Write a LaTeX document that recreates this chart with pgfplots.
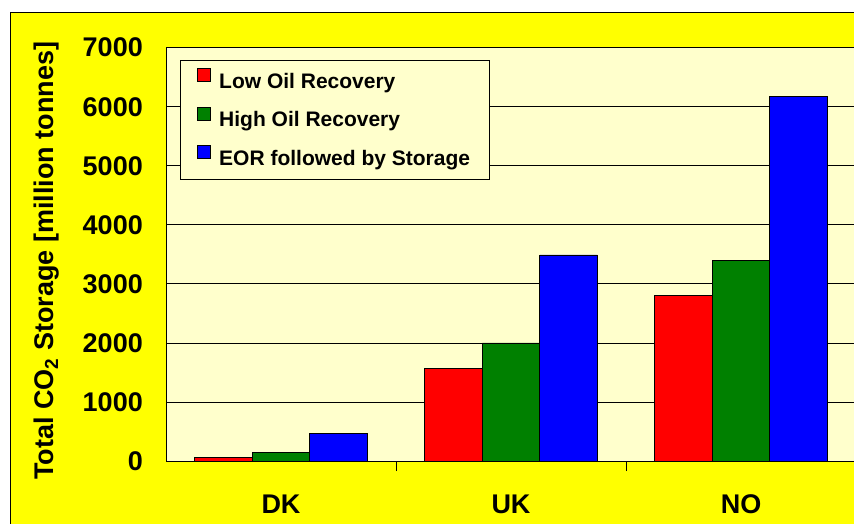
\documentclass[border=0pt]{standalone}
\usepackage{fontspec}
\setmainfont{Liberation Sans}
\usepackage{pgfplots}
\pgfplotsset{compat=1.18}

\definecolor{plotbg}{HTML}{FFFFCC}
\definecolor{frameyellow}{HTML}{FFFF00}
\definecolor{lowred}{HTML}{FF0000}
\definecolor{highgreen}{HTML}{008000}
\definecolor{eorblue}{HTML}{0000FF}

\begin{document}
\begin{tikzpicture}
\useasboundingbox (0,0) rectangle (854bp,524bp);
\fill[white] (0,0) rectangle (854bp,524bp);
\filldraw[fill=frameyellow, draw=black, line width=1bp] (10bp,-10bp) rectangle (870bp,511bp);

\begin{axis}[
    at={(166bp,63bp)}, anchor=south west,
    scale only axis,
    width=690bp, height=413.3bp,
    xmin=-0.5, xmax=2.5,
    ymin=0, ymax=7000,
    ytick={0,1000,...,7000},
    xtick={0,1,2},
    xticklabels={DK,UK,NO},
    minor xtick={0.5,1.5},
    minor tick length=10bp,
    major tick length=8bp,
    tick align=inside,
    xtick pos=bottom, ytick pos=left,
    major x tick style={draw=none},
    tick style={black, line width=0.8bp},
    ymajorgrids,
    major grid style={black, line width=0.8bp},
    axis background/.style={fill=plotbg},
    axis line style={black, line width=1bp},
    scaled ticks=false,
    /pgf/number format/1000 sep={},
    /pgf/number format/assume math mode=true,
    ticklabel style={font=\fontsize{27bp}{32bp}\selectfont\bfseries, inner sep=0pt},
    yticklabel style={anchor=east, xshift=-23bp},
    xticklabel style={anchor=center, yshift=-35bp},
    ylabel={Total CO\textsubscript{2} Storage [million tonnes]},
    ylabel style={font=\fontsize{27bp}{32bp}\selectfont\bfseries,
        at={(axis description cs:-0.173,0.484)}, anchor=center},
    ybar=0pt,
    bar width=57.5bp,
    every axis plot/.append style={draw=black, line width=0.8bp},
    legend style={at={(rel axis cs:0.0203,0.970)}, anchor=north west,
        fill=plotbg, draw=black, line width=0.8bp,
        font=\fontsize{21bp}{25bp}\selectfont\bfseries,
        row sep=12.5bp, inner xsep=17bp, inner ysep=8bp,
        nodes={inner sep=2bp, text height=15bp, text depth=4bp},
        /tikz/every odd column/.append style={column sep=6bp}},
    legend cell align=left,
    legend image code/.code={\draw[#1] (0bp,1bp) rectangle (13bp,14bp);},
]
\addplot[fill=lowred] coordinates {(0,60) (1,1570) (2,2810)};
\addplot[fill=highgreen] coordinates {(0,150) (1,2000) (2,3400)};
\addplot[fill=eorblue] coordinates {(0,460) (1,3490) (2,6180)};
\legend{Low Oil Recovery, High Oil Recovery, EOR followed by Storage}
\end{axis}
\end{tikzpicture}
\end{document}
